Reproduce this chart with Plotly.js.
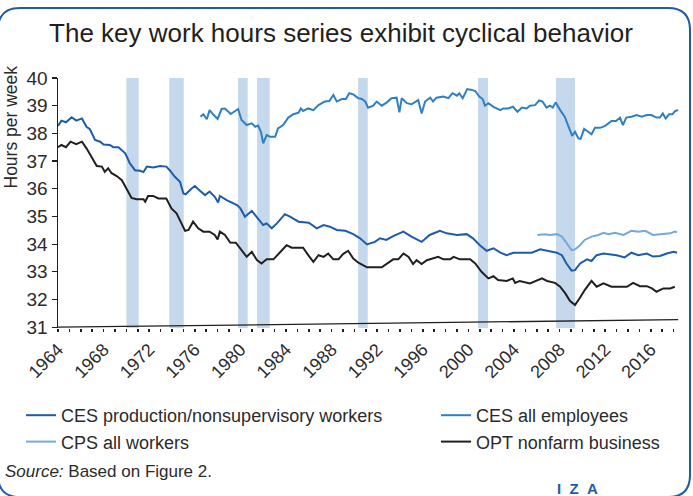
<!DOCTYPE html>
<html>
<head>
<meta charset="utf-8">
<script src="https://cdn.plot.ly/plotly-3.0.1.min.js"></script>
<style>html,body{margin:0;padding:0;background:#fff;}#chart{width:693px;height:496px;}</style>
</head>
<body>
<div id="chart"></div>
<script>
// ---- data ----
const prodYears = [1964.0,1964.3,1964.7,1965.2,1965.6,1966.1,1966.5,1966.8,1967.25,1967.7,1968.0,1968.55,1968.85,1969.3,1969.9,1970.3,1970.75,1971.2,1971.5,1971.8,1972.35,1972.95,1973.5,1973.8,1974.25,1974.7,1975.0,1975.2,1975.7,1976.0,1976.45,1976.9,1977.3,1977.75,1978.05,1978.2,1978.8,1979.25,1979.7,1980.0,1980.4,1981.0,1981.4,1982.0,1982.3,1982.75,1983.2,1983.9,1984.35,1985.1,1986.0,1986.7,1987.3,1987.85,1988.45,1989.2,1989.9,1990.5,1991.1,1991.8,1992.25,1992.8,1993.4,1994.3,1995.0,1995.9,1996.6,1997.5,1998.1,1999.0,1999.85,2000.4,2001.0,2001.6,2002.2,2002.8,2003.35,2003.95,2004.5,2005.55,2006.3,2007.0,2007.75,2008.2,2008.6,2009.05,2009.35,2009.8,2010.4,2010.8,2011.25,2011.85,2012.4,2013.0,2013.7,2014.3,2014.9,2015.65,2016.2,2016.8,2017.4,2018.0,2018.3];
const prodHours = [38.27,38.46,38.4,38.58,38.46,38.54,38.24,38.15,37.76,37.7,37.6,37.58,37.5,37.5,37.28,36.92,36.67,36.65,36.6,36.8,36.77,36.82,36.8,36.67,36.43,36.25,35.83,35.8,36.0,36.1,35.93,35.77,35.9,35.71,35.5,35.74,35.59,35.5,35.41,35.29,34.99,35.2,34.99,34.69,34.75,34.57,34.75,35.08,34.99,34.81,34.77,34.57,34.69,34.63,34.51,34.48,34.36,34.21,33.99,34.08,34.21,34.15,34.29,34.45,34.27,34.08,34.33,34.48,34.39,34.33,34.36,34.21,33.96,33.76,33.85,33.69,33.6,33.69,33.69,33.69,33.81,33.76,33.69,33.6,33.3,33.04,33.06,33.3,33.45,33.39,33.6,33.66,33.64,33.6,33.52,33.69,33.6,33.66,33.55,33.57,33.66,33.72,33.69];

const allEmpYears = [1976.5,1976.75,1977.05,1977.3,1977.6,1978.0,1978.35,1978.65,1979.15,1979.7,1979.8,1980.1,1980.55,1981.0,1981.3,1981.55,1981.8,1982.0,1982.3,1982.6,1983.05,1983.3,1983.75,1984.2,1984.65,1985.1,1985.3,1985.5,1985.95,1986.4,1986.85,1987.15,1987.4,1987.8,1988.15,1988.45,1988.9,1989.25,1989.55,1989.9,1990.35,1990.65,1990.95,1991.2,1991.65,1991.95,1992.4,1992.85,1993.25,1993.7,1993.95,1994.15,1994.6,1995.0,1995.6,1995.9,1996.2,1996.65,1996.9,1997.2,1997.8,1998.25,1998.6,1999.0,1999.2,1999.5,1999.9,2000.3,2000.6,2000.95,2001.25,2001.45,2001.75,2002.2,2002.5,2002.8,2003.05,2003.5,2003.9,2004.3,2004.7,2005.1,2005.4,2005.85,2006.2,2006.5,2006.85,2007.15,2007.4,2007.65,2008.05,2008.45,2008.75,2009.1,2009.35,2009.65,2009.85,2010.15,2010.5,2010.8,2011.1,2011.55,2012.0,2012.55,2012.95,2013.3,2013.55,2013.85,2014.3,2014.75,2015.2,2015.65,2016.05,2016.5,2016.8,2017.05,2017.3,2017.6,2017.9,2018.15,2018.4];
const allEmpHours = [38.6,38.69,38.51,38.84,38.69,38.52,38.88,38.9,38.7,38.88,38.88,38.48,38.3,38.36,38.24,38.28,38.06,37.64,37.94,37.88,37.88,38.18,38.3,38.57,38.69,38.75,38.9,38.81,38.9,38.84,39.02,39.09,39.15,39.17,39.39,39.15,39.24,39.24,39.45,39.41,39.27,39.24,39.15,38.93,39.0,39.15,39.0,39.12,39.27,39.29,38.76,39.27,39.09,39.05,39.2,38.72,39.15,39.29,39.15,39.29,39.33,39.27,39.45,39.36,39.45,39.27,39.6,39.57,39.53,39.33,39.24,39.0,39.09,38.96,38.9,38.84,38.9,38.9,38.96,38.78,38.93,38.9,39.0,39.02,39.19,39.15,38.93,39.0,38.93,39.12,38.84,38.6,38.28,37.91,38.06,37.82,37.8,38.16,38.06,37.97,38.2,38.2,38.27,38.45,38.45,38.57,38.3,38.57,38.6,38.66,38.6,38.66,38.66,38.57,38.57,38.72,38.54,38.69,38.69,38.81,38.84];

const cpsYears = [2006.05,2006.7,2007.15,2007.75,2008.2,2008.6,2009.05,2009.35,2009.8,2010.2,2010.8,2011.4,2011.85,2012.3,2012.85,2013.6,2014.3,2014.9,2015.5,2016.2,2016.95,2017.7,2018.1,2018.3];
const cpsHours = [34.33,34.36,34.33,34.36,34.27,34.05,33.78,33.81,33.96,34.15,34.27,34.33,34.41,34.36,34.41,34.33,34.48,34.45,34.48,34.33,34.36,34.39,34.45,34.43];

const optYears = [1964.0,1964.3,1964.7,1965.1,1965.6,1966.1,1966.5,1966.95,1967.4,1967.85,1968.1,1968.4,1968.7,1969.15,1969.6,1970.0,1970.45,1970.9,1971.5,1971.65,1971.9,1972.35,1972.8,1973.5,1973.95,1974.4,1974.85,1975.15,1975.45,1975.85,1976.3,1976.75,1977.3,1977.75,1978.0,1978.2,1978.65,1979.1,1979.6,1980.1,1980.55,1981.0,1981.45,1981.85,1982.3,1982.9,1983.5,1984.05,1984.5,1985.5,1985.95,1986.4,1986.85,1987.3,1987.7,1988.15,1988.6,1989.0,1989.45,1989.9,1990.35,1990.8,1991.1,1992.4,1992.85,1993.4,1993.85,1994.3,1994.75,1995.15,1995.45,1995.9,1996.35,1996.9,1997.35,1997.8,1998.4,1998.7,1999.25,2000.15,2000.6,2001.15,2001.75,2002.2,2002.6,2003.35,2003.9,2004.1,2004.5,2005.4,2006.0,2006.45,2006.9,2007.6,2008.05,2008.5,2008.9,2009.35,2009.8,2010.2,2010.8,2011.25,2011.85,2012.55,2013.9,2014.45,2015.05,2015.65,2016.1,2016.5,2017.1,2017.7,2018.1];
const optHours = [37.5,37.58,37.5,37.7,37.61,37.7,37.46,37.16,36.82,36.8,36.61,36.74,36.56,36.46,36.31,36.01,35.67,35.62,35.62,35.53,35.74,35.74,35.65,35.65,35.29,35.11,34.75,34.48,34.51,34.81,34.57,34.45,34.45,34.33,34.17,34.45,34.33,34.06,34.05,33.78,33.54,33.72,33.42,33.3,33.45,33.45,33.72,33.96,33.87,33.87,33.6,33.36,33.6,33.54,33.66,33.45,33.45,33.64,33.76,33.48,33.33,33.21,33.16,33.16,33.3,33.45,33.45,33.66,33.54,33.28,33.42,33.28,33.42,33.48,33.54,33.45,33.45,33.54,33.45,33.45,33.3,33.0,32.76,32.84,32.7,32.67,32.76,32.6,32.67,32.58,32.67,32.76,32.67,32.6,32.46,32.22,31.95,31.8,32.07,32.34,32.67,32.46,32.58,32.46,32.46,32.6,32.48,32.48,32.4,32.28,32.4,32.4,32.46];

const recessionStart = [1970.0,1973.76,1979.79,1981.46,1990.32,2000.84,2007.68];
const recessionEnd   = [1971.08,1975.03,1980.64,1982.57,1991.17,2001.72,2009.35];

const baselineYears = [1964.0, 2018.4];
const baselineHours = [31.0, 31.27];

const tickYears = [1964,1968,1972,1976,1980,1984,1988,1992,1996,2000,2004,2008,2012,2016];
const yTicks = [31,32,33,34,35,36,37,38,39,40];

// ---- figure ----
const FONT = '"Liberation Sans", Arial, sans-serif';
const TXT = '#2b2b2b';
const W = 693, H = 496, L = 58, R = 680, T = 78, B = 328;
const px = x => (x - L) / (R - L);
const py = y => (B - y) / (B - T);

const traces = [
  {x: prodYears, y: prodHours, name: 'CES production/nonsupervisory workers', mode: 'lines',
   line: {color: '#1c5ca8', width: 2}, legend: 'legend'},
  {x: cpsYears, y: cpsHours, name: 'CPS all workers', mode: 'lines',
   line: {color: '#74a9db', width: 2}, legend: 'legend'},
  {x: allEmpYears, y: allEmpHours, name: 'CES all employees', mode: 'lines',
   line: {color: '#2f80c3', width: 2}, legend: 'legend2'},
  {x: optYears, y: optHours, name: 'OPT nonfarm business', mode: 'lines',
   line: {color: '#231f20', width: 2}, legend: 'legend2'},
  {x: baselineYears, y: baselineHours, mode: 'lines', showlegend: false, hoverinfo: 'skip',
   line: {color: '#231f20', width: 1.3}}
];

const shapes = recessionStart.map((s, i) => ({
  type: 'rect', xref: 'x', yref: 'paper', x0: s, x1: recessionEnd[i], y0: 0, y1: 1,
  fillcolor: '#c6d9ec', line: {width: 0}, layer: 'below'
}));

// rounded frame around the figure
(function () {
  const l = -2, t = 8, r = 690, b = 497, rad = 22;
  const P = (x, y) => px(x) + ',' + py(y);
  shapes.push({
    type: 'path', xref: 'paper', yref: 'paper', layer: 'above',
    path: 'M' + P(l, t + rad) + ' Q' + P(l, t) + ' ' + P(l + rad, t) +
          ' L' + P(r - rad, t) + ' Q' + P(r, t) + ' ' + P(r, t + rad) +
          ' L' + P(r, b - rad) + ' Q' + P(r, b) + ' ' + P(r - rad, b) +
          ' L' + P(l + rad, b) + ' Q' + P(l, b) + ' ' + P(l, b - rad) + ' Z',
    line: {color: '#1f5ca8', width: 2}
  });
})();

const layout = {
  width: W, height: H,
  margin: {l: L, r: W - R, t: T, b: H - B, pad: 0},
  paper_bgcolor: '#fff', plot_bgcolor: '#fff',
  font: {family: FONT, color: TXT, size: 17},
  title: {text: 'The key work hours series exhibit cyclical behavior',
          font: {family: FONT, size: 26, color: '#231f20'},
          xref: 'container', yref: 'container', x: 0.492, xanchor: 'center', y: 1 - 33 / H, yanchor: 'middle'},
  xaxis: {range: [1964, 2018.56], tickvals: tickYears, ticktext: tickYears.map(String),
          tickangle: -45, ticks: 'outside', ticklen: 3, tickwidth: 1.5, tickcolor: '#231f20',
          minor: {dtick: 1, tick0: 1964, ticks: 'outside', ticklen: 3, tickwidth: 1.5, tickcolor: '#231f20', showgrid: false},
          showgrid: false, zeroline: false, showline: false,
          tickfont: {family: FONT, size: 18, color: TXT}},
  yaxis: {range: [30.97, 40], tickvals: yTicks, ticks: 'outside', ticklen: 5, tickwidth: 1.2,
          tickcolor: '#231f20', showline: true, linecolor: '#231f20', linewidth: 1.5,
          showgrid: false, zeroline: false, tickfont: {family: FONT, size: 19, color: TXT}},
  showlegend: true,
  legend: {x: px(21), xanchor: 'left', y: py(397), yanchor: 'top', orientation: 'v',
           font: {family: FONT, size: 18, color: TXT}, bgcolor: 'rgba(0,0,0,0)', tracegroupgap: 0},
  legend2: {x: px(436), xanchor: 'left', y: py(397), yanchor: 'top', orientation: 'v',
            font: {family: FONT, size: 18, color: TXT}, bgcolor: 'rgba(0,0,0,0)', tracegroupgap: 0},
  shapes: shapes,
  annotations: [
    {text: 'Hours per week', textangle: -90, xref: 'paper', yref: 'paper',
     x: px(10.5), y: py(127), xanchor: 'center', yanchor: 'middle', showarrow: false,
     font: {family: FONT, size: 17.5, color: TXT}},
    {text: '<i>Source:</i> Based on Figure 2.', xref: 'paper', yref: 'paper',
     x: px(3), y: py(471), xanchor: 'left', yanchor: 'middle', showarrow: false,
     font: {family: FONT, size: 17, color: TXT}},
    {text: '<b>I&nbsp;&nbsp;Z&nbsp;&nbsp;A</b>', xref: 'paper', yref: 'paper',
     x: px(577), y: py(488), xanchor: 'center', yanchor: 'middle', showarrow: false,
     font: {family: FONT, size: 15, color: '#1f5ca8'}}
  ]
};

Plotly.newPlot('chart', traces, layout, {displayModeBar: false, staticPlot: true});
</script>
</body>
</html>
